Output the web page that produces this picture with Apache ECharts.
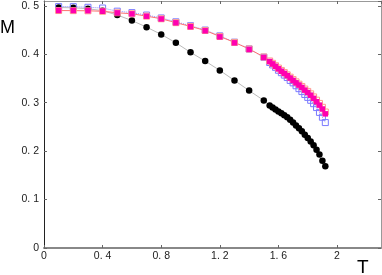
<!DOCTYPE html>
<html><head><meta charset="utf-8">
<script src="https://cdn.jsdelivr.net/npm/echarts@6/dist/echarts.min.js"></script>
<style>html,body{margin:0;padding:0;background:#fff}#c{width:382px;height:275px}</style>
</head><body><div id="c"></div>
<script>
const T = [0.1,0.2,0.3,0.4,0.5,0.6,0.7,0.8,0.9,1.0,1.1,1.2,1.3,1.4,1.5,
  1.54,1.56,1.58,1.60,1.62,1.64,1.66,1.68,1.70,1.72,1.74,1.76,1.78,1.80,1.82,1.84,1.86,1.88,1.90,1.92];
const mBlack = [0.4965,0.496,0.494,0.490,0.481,0.4697,0.456,0.441,0.4237,0.404,0.386,0.3666,0.346,0.325,0.3047,
  0.294,0.290,0.286,0.282,0.278,0.274,0.270,0.265,0.259,0.253,0.247,0.241,0.234,0.227,0.220,0.212,0.203,0.193,0.180,0.169];
const mBlue = [0.4985,0.4983,0.497,0.4955,0.489,0.486,0.481,0.475,0.467,0.459,0.450,0.438,0.425,0.411,0.394,
  0.383,0.378,0.373,0.367,0.362,0.357,0.352,0.346,0.341,0.335,0.329,0.323,0.317,0.311,0.305,0.298,0.290,0.280,0.270,0.259];
const mRed = [0.4903,0.4901,0.4898,0.4888,0.4857,0.4836,0.4788,0.4733,0.4653,0.4575,0.4492,0.4368,0.4245,0.411,0.3945,
  0.3862,0.3813,0.3764,0.3715,0.3666,0.3622,0.3575,0.3527,0.3478,0.3430,0.3382,0.3335,0.3282,0.3233,0.3183,0.3120,0.3052,0.2985,0.2905,0.2808];
const mMagenta = [0.4905,0.4903,0.490,0.489,0.4855,0.4835,0.4786,0.473,0.465,0.457,0.4485,0.436,0.4237,0.41,0.3934,
  0.385,0.380,0.375,0.370,0.365,0.3605,0.356,0.351,0.346,0.341,0.3365,0.3315,0.326,0.321,0.3155,0.309,0.302,0.295,0.287,0.277];
const xTickLabels = {'0':'0','0.4':'0. 4','0.8':'0. 8','1.2':'1. 2','1.6':'1. 6','2':'2'};
const yTickLabels = {'0':'0','0.1':'0. 1','0.2':'0. 2','0.3':'0. 3','0.4':'0. 4','0.5':'0. 5'};

const pts = arr => T.map((t,i)=>[t,arr[i]]);
const key = v => String(Math.round(v*1000)/1000);
const chart = echarts.init(document.getElementById('c'), null, {renderer:'canvas'});
const lbl = {fontFamily:'Liberation Sans', fontSize:10.5, color:'#222'};
chart.setOption({
  animation:false,
  backgroundColor:'#fff',
  grid:{left:44, right:1, top:1, bottom:27, containLabel:false},
  xAxis:[{type:'value', min:0, max:2.3, interval:0.4, position:'bottom',
      axisLine:{show:true, onZero:false, lineStyle:{color:'#888', width:2}},
      axisTick:{show:true, inside:true, length:3, lineStyle:{color:'#666'}},
      splitLine:{show:false},
      axisLabel:Object.assign({margin:3, showMaxLabel:false, formatter:v=>xTickLabels[key(v)]||''}, lbl)},
    {type:'value', min:0, max:2.3, interval:0.4, position:'top',
      axisLine:{show:true, onZero:false, lineStyle:{color:'#999', width:1}},
      axisTick:{show:true, inside:true, length:3, lineStyle:{color:'#666'}},
      splitLine:{show:false}, axisLabel:{show:false}}],
  yAxis:[{type:'value', min:0, max:0.51, interval:0.1, position:'left',
      axisLine:{show:true, onZero:false, lineStyle:{color:'#222', width:1}},
      axisTick:{show:true, inside:true, length:3, lineStyle:{color:'#666'}},
      splitLine:{show:false},
      axisLabel:Object.assign({margin:5, showMaxLabel:false, formatter:v=>yTickLabels[key(v)]||''}, lbl)},
    {type:'value', min:0, max:0.51, interval:0.1, position:'right',
      axisLine:{show:true, onZero:false, lineStyle:{color:'#999', width:1}},
      axisTick:{show:true, inside:true, length:3, lineStyle:{color:'#666'}},
      splitLine:{show:false}, axisLabel:{show:false}}],
  series:[
    {type:'line', data:pts(mBlack), symbol:'circle', symbolSize:6.5,
      itemStyle:{color:'#000'}, lineStyle:{color:'#bbb', width:1}},
    {type:'line', data:pts(mBlue), symbol:'rect', symbolSize:6,
      itemStyle:{color:'rgba(255,255,255,0)', borderColor:'#7a7aff', borderWidth:1},
      lineStyle:{color:'#8a8aff', width:1, type:'dotted'}},
    {type:'line', data:pts(mRed), symbol:'rect', symbolSize:6,
      itemStyle:{color:'rgba(255,255,255,0)', borderColor:'#ff9a8a', borderWidth:1},
      lineStyle:{color:'#ff7070', width:1}},
    {type:'line', data:pts(mMagenta), symbol:'rect', symbolSize:5.5,
      itemStyle:{color:'#ff00b0'}, lineStyle:{width:0, opacity:0}}
  ],
  graphic:[
    {type:'text', left:0, top:19, style:{text:'M', font:'18px Liberation Sans', fill:'#000'}},
    {type:'text', left:357, top:258, style:{text:'T', font:'19px Liberation Sans', fill:'#000'}}
  ]
});
</script></body></html>
